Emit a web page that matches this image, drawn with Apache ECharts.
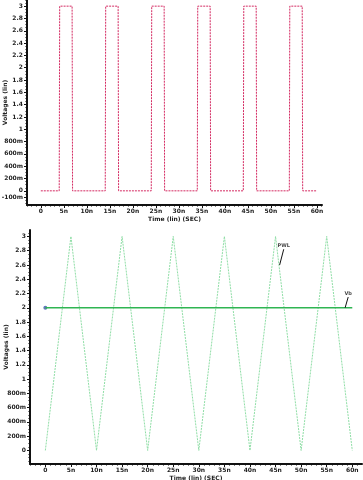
<!DOCTYPE html>
<html><head><meta charset="utf-8">
<script src="https://cdn.jsdelivr.net/npm/echarts@6/dist/echarts.min.js"></script>
<style>html,body{margin:0;padding:0;background:#fff}#c{width:363px;height:480px}</style>
</head><body><div id="c"></div>
<script>
// ---- data ----
var pulseT = [0, 4, 4.1, 6.8, 6.9, 14, 14.1, 16.8, 16.9, 24, 24.1, 26.8, 26.9, 34, 34.1, 36.8, 36.9, 44, 44.1, 46.8, 46.9, 54, 54.1, 56.8, 56.9, 60];
var pulseV = [0, 0, 3, 3, 0, 0, 3, 3, 0, 0, 3, 3, 0, 0, 3, 3, 0, 0, 3, 3, 0, 0, 3, 3, 0, 0];
var triT = [0, 5, 10, 15, 20, 25, 30, 35, 40, 45, 50, 55, 60];
var triV = [0, 3, 0, 3, 0, 3, 0, 3, 0, 3, 0, 3, 0];
var flatT = [0, 60];
var flatV = [2, 2];
var xTickValues = [0, 5, 10, 15, 20, 25, 30, 35, 40, 45, 50, 55, 60];
var xTickLabels = ['0', '5n', '10n', '15n', '20n', '25n', '30n', '35n', '40n', '45n', '50n', '55n', '60n'];
var yTopTickValues = [-0.1, 0, 0.2, 0.4, 0.6, 0.8, 1, 1.2, 1.4, 1.6, 1.8, 2, 2.2, 2.4, 2.6, 2.8, 3];
var yBotTickValues = [0, 0.2, 0.4, 0.6, 0.8, 1, 1.2, 1.4, 1.6, 1.8, 2, 2.2, 2.4, 2.6, 2.8, 3];
var yTickLabels = {'-0.1':'-100m','0':'0','0.2':'200m','0.4':'400m','0.6':'600m','0.8':'800m','1':'1','1.2':'1.2','1.4':'1.4','1.6':'1.6','1.8':'1.8','2':'2','2.2':'2.2','2.4':'2.4','2.6':'2.6','2.8':'2.8','3':'3'};
var xName = 'Time (lin) (SEC)';
var yName = 'Voltages (lin)';
var notes = [
  {text: 'PWL', at: [46.6, 2.82], tip: [45.8, 2.6]},
  {text: 'Vb', at: [59.2, 2.15], tip: [58.6, 2.0]}
];

// ---- minor tick positions ----
function range(a, b, s) { var r = []; for (var v = a; v <= b + 1e-9; v += s) r.push(Math.round(v * 1000) / 1000); return r; }
var xMinor = range(-3, 61, 1);
var yMinorTop = range(-0.2, 3.1, 0.05);
var yMinorBot = range(-0.15, 3.05, 0.05);

var pink = '#d42a62', lgreen = '#8fdea6', green = '#2fb552';
var lblFont = {fontSize: 6, fontWeight: 'bold', color: '#222', fontFamily: 'DejaVu Sans'};
function fmtY(v) { var k = String(Math.round(v * 10) / 10); return yTickLabels[k] !== undefined ? yTickLabels[k] : ''; }
function fmtX(v) { var i = xTickValues.indexOf(Math.round(v)); return i >= 0 ? xTickLabels[i] : ''; }
function zip(a, b) { return a.map(function (v, i) { return [v, b[i]]; }); }

function xMain(g, min, max) {
  return {type: 'value', gridIndex: g, min: min, max: max, position: 'bottom',
    name: xName, nameLocation: 'middle', nameGap: 11, nameMoveOverlap: false,
    nameTextStyle: {fontSize: 6, fontWeight: 'bold', color: '#222', fontFamily: 'DejaVu Sans'},
    axisLine: {show: true, onZero: false, lineStyle: {color: '#111', width: 2}},
    axisTick: {show: true, customValues: xTickValues, length: 3, lineStyle: {color: '#111', width: 1}},
    axisLabel: Object.assign({show: true, customValues: xTickValues, formatter: fmtX, margin: 3}, lblFont),
    splitLine: {show: false}};
}
function xMin(g, min, max) {
  return {type: 'value', gridIndex: g, min: min, max: max, position: 'bottom',
    axisLine: {show: false, onZero: false}, axisLabel: {show: false}, splitLine: {show: false},
    axisTick: {show: true, customValues: xMinor.filter(function (v) { return v >= min && v <= max; }), length: 1.5, lineStyle: {color: '#111', width: 1}}};
}
function yMain(g, min, max, ticks, gap) {
  return {type: 'value', gridIndex: g, min: min, max: max, position: 'left',
    name: yName, nameLocation: 'middle', nameGap: gap, nameRotate: 90, nameMoveOverlap: false,
    nameTextStyle: {fontSize: 6, fontWeight: 'bold', color: '#222', fontFamily: 'DejaVu Sans'},
    axisLine: {show: true, onZero: false, lineStyle: {color: '#111', width: 2}},
    axisTick: {show: true, customValues: ticks, length: 3, lineStyle: {color: '#111', width: 1}},
    axisLabel: Object.assign({show: true, customValues: ticks, formatter: fmtY, margin: 4}, lblFont),
    splitLine: {show: false}};
}
function yMin(g, min, max, minor) {
  return {type: 'value', gridIndex: g, min: min, max: max, position: 'left',
    axisLine: {show: false, onZero: false}, axisLabel: {show: false}, splitLine: {show: false},
    axisTick: {show: true, customValues: minor.filter(function (v) { return v >= min && v <= max; }), length: 1.5, lineStyle: {color: '#111', width: 1}}};
}

var series = [
  {type: 'line', xAxisIndex: 0, yAxisIndex: 0, data: zip(pulseT, pulseV), showSymbol: false, silent: true,
   lineStyle: {color: pink, width: 1, type: [2, 1]}},
  {type: 'scatter', xAxisIndex: 0, yAxisIndex: 0, data: [[pulseT[0], pulseV[0]]], symbol: 'emptyCircle', symbolSize: 5,
   itemStyle: {color: '#fff', borderColor: pink, borderWidth: 1.2}},
  {type: 'line', xAxisIndex: 2, yAxisIndex: 2, data: zip(triT, triV), showSymbol: false, silent: true,
   lineStyle: {color: lgreen, width: 1, type: [2, 1]}},
  {type: 'line', xAxisIndex: 2, yAxisIndex: 2, data: zip(flatT, flatV), showSymbol: false, silent: true,
   lineStyle: {color: green, width: 1.3}},
  {type: 'scatter', xAxisIndex: 2, yAxisIndex: 2, data: [[flatT[0], flatV[0]]], symbol: 'circle', symbolSize: 4,
   itemStyle: {color: '#3a56a8'}}
];
notes.forEach(function (n) {
  series.push({type: 'line', xAxisIndex: 2, yAxisIndex: 2, data: [n.tip, n.at], showSymbol: false, silent: true,
    lineStyle: {color: '#111', width: 1}});
  series.push({type: 'scatter', xAxisIndex: 2, yAxisIndex: 2, data: [n.at], symbolSize: 0,
    label: {show: true, position: 'top', distance: 1, formatter: n.text, fontSize: 5, fontWeight: 'bold', color: '#111', fontFamily: 'DejaVu Sans'}});
});

var chart = echarts.init(document.getElementById('c'), null, {renderer: 'canvas'});
chart.setOption({
  animation: false,
  backgroundColor: '#fff',
  grid: [
    {left: 27, right: 41, top: 0, bottom: 275, containLabel: false, outerBoundsMode: 'none'},
    {left: 30, right: 1, top: 230, bottom: 16, containLabel: false, outerBoundsMode: 'none'}
  ],
  xAxis: [xMain(0, -3, 61.1), xMin(0, -3, 61.1), xMain(1, -3, 61.9), xMin(1, -3, 61.9)],
  yAxis: [yMain(0, -0.23, 3.1, yTopTickValues, 19), yMin(0, -0.23, 3.1, yMinorTop),
          yMain(1, -0.19, 3.09, yBotTickValues, 21), yMin(1, -0.19, 3.09, yMinorBot)],
  series: series
});
</script>
</body></html>
